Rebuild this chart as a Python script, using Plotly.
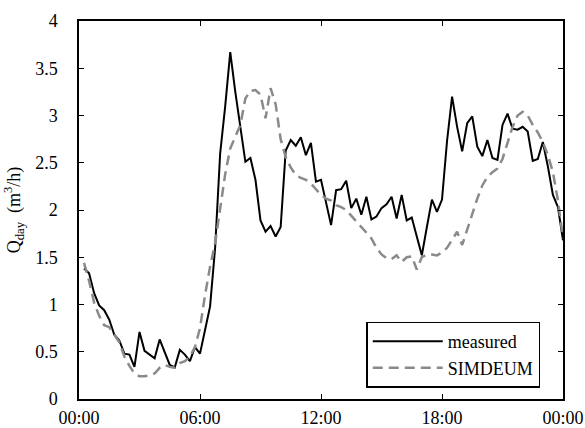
import plotly.graph_objects as go

# time in hours (15-min steps, end-of-interval)
hours = [0.25 * i for i in range(1, 97)]

measured = [1.38, 1.33, 1.12, 0.99, 0.94, 0.84, 0.68, 0.62, 0.48, 0.47, 0.34, 0.71,
            0.51, 0.47, 0.43, 0.63, 0.50, 0.36, 0.335, 0.52, 0.47, 0.40, 0.55, 0.48,
            0.73, 0.98, 1.60, 2.60, 3.10, 3.67, 3.25, 2.88, 2.51, 2.55, 2.32, 1.89,
            1.77, 1.83, 1.72, 1.82, 2.63, 2.74, 2.68, 2.77, 2.58, 2.71, 2.30, 2.32,
            2.08, 1.84, 2.21, 2.22, 2.31, 2.02, 2.12, 1.95, 2.14, 1.90, 1.93, 2.02,
            2.06, 2.14, 1.91, 2.16, 1.89, 1.92, 1.72, 1.52, 1.82, 2.11, 1.98, 2.11,
            2.73, 3.20, 2.88, 2.62, 2.92, 2.99, 2.67, 2.57, 2.74, 2.55, 2.53, 2.90,
            3.02, 2.86, 2.85, 2.88, 2.83, 2.52, 2.54, 2.72, 2.46, 2.16, 2.03, 1.68]

simdeum = [1.44, 1.25, 1.02, 0.88, 0.78, 0.76, 0.68, 0.60, 0.45, 0.35, 0.27, 0.24,
           0.24, 0.25, 0.27, 0.33, 0.36, 0.34, 0.33, 0.38, 0.40, 0.45, 0.55, 0.75,
           1.10, 1.40, 1.65, 2.03, 2.38, 2.65, 2.78, 2.90, 3.18, 3.26, 3.27, 3.22,
           2.97, 3.29, 3.12, 2.75, 2.56, 2.45, 2.37, 2.34, 2.32, 2.28, 2.22, 2.16,
           2.12, 2.10, 2.05, 2.03, 2.00, 1.94, 1.88, 1.82, 1.77, 1.70, 1.60, 1.53,
           1.49, 1.48, 1.52, 1.45, 1.50, 1.51, 1.37, 1.50, 1.53, 1.53, 1.52, 1.55,
           1.60, 1.68, 1.77, 1.63, 1.80, 1.96, 2.12, 2.26, 2.35, 2.40, 2.44, 2.54,
           2.72, 2.88, 3.00, 3.04, 3.00, 2.90, 2.82, 2.72, 2.58, 2.40, 2.10, 1.70]

x_tickvals = [0, 6, 12, 18, 24]
x_ticktext = ["00:00", "06:00", "12:00", "18:00", "00:00"]
y_tickvals = [0, 0.5, 1, 1.5, 2, 2.5, 3, 3.5, 4]
y_ticktext = ["0", "0.5", "1", "1.5", "2", "2.5", "3", "3.5", "4"]

FONT = "Liberation Serif, Times New Roman, serif"

fig = go.Figure()
fig.add_trace(go.Scatter(x=hours, y=measured, mode="lines", name="measured",
                         line=dict(color="black", width=2)))
fig.add_trace(go.Scatter(x=hours, y=simdeum, mode="lines", name="SIMDEUM",
                         line=dict(color="#8a8a8a", width=2.5, dash="10px,6px")))

axis_common = dict(showline=True, linecolor="black", linewidth=1.5, mirror="ticks",
                   ticks="inside", ticklen=5, tickwidth=1, tickcolor="black",
                   showgrid=False, zeroline=False, automargin=False,
                   tickfont=dict(family=FONT, size=18, color="black"))

fig.update_layout(
    width=585, height=428,
    margin=dict(l=79, r=22, t=21, b=29),
    paper_bgcolor="white", plot_bgcolor="white",
    font=dict(family=FONT, size=18, color="black"),
    xaxis=dict(range=[0, 24], tickvals=x_tickvals, ticktext=x_ticktext,
               ticklabelstandoff=2, **axis_common),
    yaxis=dict(range=[0, 4], tickvals=y_tickvals, ticktext=y_ticktext,
               ticklabelstandoff=16,
               title=dict(text="Q<sub>day</sub>  (m<sup>3</sup>/h)",
                          font=dict(family=FONT, size=18), standoff=10),
               **axis_common),
    legend=dict(x=0.953, y=0.03, xanchor="right", yanchor="bottom",
                bordercolor="black", borderwidth=1.5, bgcolor="white",
                font=dict(family=FONT, size=18), itemwidth=70,
                tracegroupgap=0),
    showlegend=True,
)

fig.write_html("out.html")
